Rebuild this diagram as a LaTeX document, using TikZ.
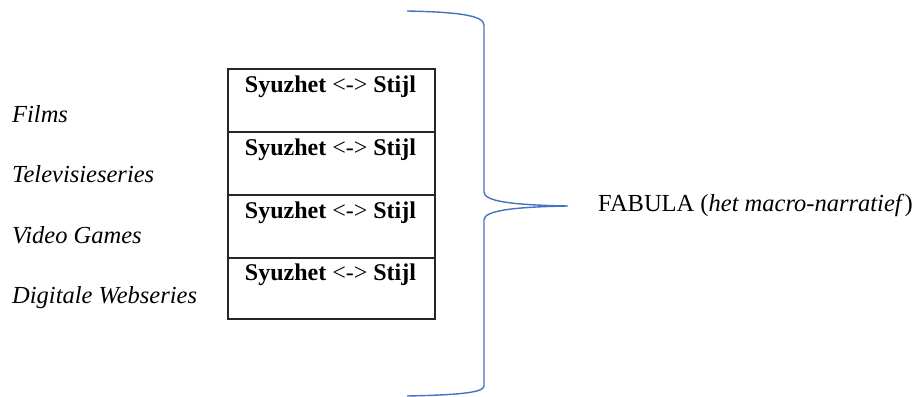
\documentclass[tikz,border=0pt]{standalone}
\usepackage{fontspec}
\setmainfont{Liberation Serif}
\definecolor{braceblue}{RGB}{68,114,196}
\begin{document}
\begin{tikzpicture}[x=1pt,y=-1pt,
  cellbox/.style={draw=black!85,line width=1.5pt,minimum width=207pt,minimum height=63pt,anchor=north west,inner sep=0pt},
  celltext/.style={anchor=base,inner sep=0pt,font=\fontsize{24}{28}\selectfont},
  medium/.style={anchor=base west,inner sep=0pt,font=\fontsize{24.5}{28}\selectfont\itshape},
  fab/.style={anchor=base west,inner sep=0pt,font=\fontsize{24.5}{28}\selectfont},
  bracestyle/.style={draw=braceblue,line width=1.4pt}]
\useasboundingbox (0,0) rectangle (917,396);
% boxes
\node[cellbox] (box1) at (227,68) {};
\node[cellbox] (box2) at (227,131) {};
\node[cellbox] (box3) at (227,194) {};
\node[cellbox,minimum height=61pt] (box4) at (227,257) {};
\foreach \i/\y in {1/92,2/155,3/218,4/280}{
  \node[celltext] (t\i) at (330.5,\y) {\textbf{Syuzhet} <-> \textbf{Stijl}};
}
% media labels
\node[medium] (films) at (12,122) {Films};
\node[medium] (tv) at (12,182) {Televisieseries};
\node[medium] (games) at (12,243) {Video Games};
\node[medium] (web) at (12,303) {Digitale Webseries};
% fabula
\node[fab] (fabula) at (598,211) {FABULA (\textit{het macro-narratief})};
% brace
\coordinate (bTop) at (407,11);
\coordinate (bUp) at (484,25);
\coordinate (bMid1) at (484,192);
\coordinate (bTip) at (568,206);
\coordinate (bMid2) at (484,220);
\coordinate (bLow) at (484,386);
\coordinate (bBot) at (407,396);
\draw[bracestyle] (bTop) .. controls (455,12) and (484,15) .. (bUp) -- (bMid1)
  .. controls (484,201) and (510,205) .. (bTip)
  .. controls (510,207) and (484,211) .. (bMid2) -- (bLow)
  .. controls (484,393) and (455,395) .. (bBot);
\end{tikzpicture}
\end{document}
